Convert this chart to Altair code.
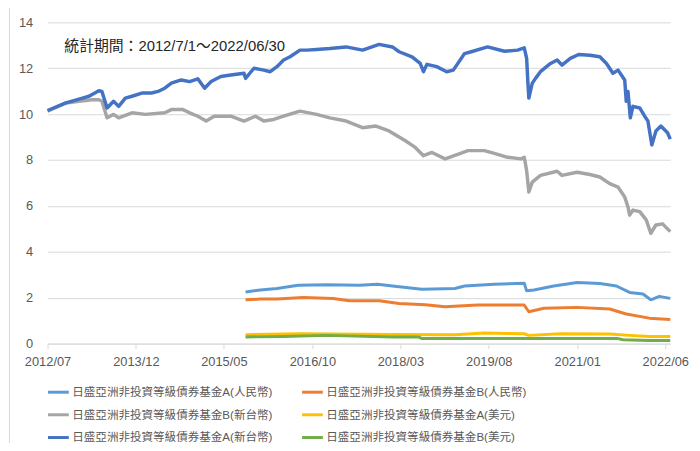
import altair as alt
import pandas as pd

FONT = "Liberation Sans, Arial, Noto Sans CJK TC, sans-serif"

series_names = [
    "日盛亞洲非投資等級債券基金A(人民幣)",
    "日盛亞洲非投資等級債券基金B(人民幣)",
    "日盛亞洲非投資等級債券基金B(新台幣)",
    "日盛亞洲非投資等級債券基金A(美元)",
    "日盛亞洲非投資等級債券基金A(新台幣)",
    "日盛亞洲非投資等級債券基金B(美元)",
]
series_colors = ["#5B9BD5", "#ED7D31", "#A5A5A5", "#FFC000", "#4472C4", "#70AD47"]
series_widths = [3, 3, 3.5, 3, 3.5, 3]
# legend is laid out column by column: left column first, then right column
legend_order = [0, 2, 4, 1, 3, 5]

# A(新台幣)
dates_twd_a = [
    "2012-07-01", "2012-10-17", "2013-01-22", "2013-03-01", "2013-04-28", "2013-05-16",
    "2013-06-15", "2013-07-23", "2013-08-22", "2013-09-30", "2013-11-08", "2014-01-05",
    "2014-03-03", "2014-04-10", "2014-05-19", "2014-06-27", "2014-08-24", "2014-10-12",
    "2014-11-29", "2015-01-08", "2015-02-15", "2015-04-13", "2015-06-10", "2015-08-27",
    "2015-09-05", "2015-10-24", "2015-12-21", "2016-01-28", "2016-03-07", "2016-04-15",
    "2016-05-23", "2016-07-20", "2016-08-28", "2016-10-25", "2017-01-11", "2017-04-17",
    "2017-07-22", "2017-10-27", "2018-01-13", "2018-02-21", "2018-05-08", "2018-06-25",
    "2018-07-14", "2018-08-03", "2018-09-30", "2018-11-27", "2019-01-05", "2019-03-12",
    "2019-04-20", "2019-07-25", "2019-11-01", "2020-01-17", "2020-02-25", "2020-03-10",
    "2020-03-17", "2020-03-23", "2020-04-12", "2020-05-01", "2020-05-30", "2020-07-28",
    "2020-09-05", "2020-10-03", "2020-11-21", "2021-01-09", "2021-03-16", "2021-05-13",
    "2021-06-21", "2021-07-29", "2021-08-28", "2021-10-06", "2021-10-15", "2021-10-25",
    "2021-11-08", "2021-11-23", "2022-01-02", "2022-01-31", "2022-02-19", "2022-03-14",
    "2022-04-07", "2022-05-06", "2022-06-14", "2022-06-30",
]
vals_twd_a = [
    10.16, 10.49, 10.70, 10.78, 11.02, 10.99,
    10.27, 10.56, 10.34, 10.70, 10.78, 10.92,
    10.92, 10.99, 11.13, 11.35, 11.49, 11.42,
    11.54, 11.13, 11.42, 11.64, 11.71, 11.78,
    11.56, 12.00, 11.92, 11.85, 12.07, 12.36,
    12.50, 12.79, 12.79, 12.82, 12.86, 12.93,
    12.79, 13.04, 12.93, 12.72, 12.50, 12.21,
    11.85, 12.17, 12.07, 11.85, 11.92, 12.64,
    12.72, 12.93, 12.74, 12.79, 12.89, 12.43,
    11.42, 10.70, 11.35, 11.56, 11.85, 12.21,
    12.36, 12.14, 12.43, 12.60, 12.57, 12.50,
    12.21, 11.78, 11.92, 11.49, 10.56, 10.99,
    9.84, 10.34, 10.27, 9.91, 9.70, 8.66,
    9.27, 9.48, 9.19, 8.91,
]

# B(新台幣)
dates_twd_b = [
    "2012-07-01", "2012-10-17", "2013-01-03", "2013-03-20", "2013-04-28", "2013-05-16",
    "2013-06-15", "2013-07-23", "2013-08-22", "2013-11-08", "2014-01-25", "2014-05-19",
    "2014-06-27", "2014-09-03", "2014-10-12", "2014-11-29", "2015-01-17", "2015-03-05",
    "2015-06-10", "2015-08-27", "2015-11-02", "2015-12-21", "2016-02-17", "2016-04-15",
    "2016-07-20", "2016-10-25", "2017-01-11", "2017-04-17", "2017-07-22", "2017-10-08",
    "2017-12-24", "2018-03-30", "2018-05-27", "2018-07-14", "2018-09-02", "2018-11-18",
    "2019-02-04", "2019-04-01", "2019-07-06", "2019-09-03", "2019-11-19", "2020-02-06",
    "2020-02-25", "2020-03-10", "2020-03-23", "2020-04-12", "2020-05-30", "2020-09-05",
    "2020-10-03", "2020-12-31", "2021-03-16", "2021-05-13", "2021-07-10", "2021-08-28",
    "2021-10-06", "2021-10-25", "2021-11-04", "2021-11-23", "2022-01-02", "2022-02-09",
    "2022-03-08", "2022-04-07", "2022-05-16", "2022-06-30",
]
vals_twd_b = [
    10.13, 10.49, 10.56, 10.63, 10.63, 10.56,
    9.84, 9.99, 9.84, 10.06, 9.99, 10.06,
    10.20, 10.20, 10.06, 9.91, 9.70, 9.91,
    9.91, 9.70, 9.91, 9.70, 9.77, 9.91,
    10.13, 9.99, 9.84, 9.70, 9.41, 9.48,
    9.27, 8.84, 8.55, 8.19, 8.33, 8.05,
    8.26, 8.41, 8.41, 8.29, 8.12, 8.05,
    8.12, 7.54, 6.61, 7.04, 7.33, 7.51,
    7.33, 7.47, 7.37, 7.26, 6.97, 6.82,
    6.39, 5.96, 5.60, 5.82, 5.75, 5.39,
    4.81, 5.17, 5.22, 4.88,
]

# A(人民幣)
dates_rmb_a = [
    "2015-09-05", "2015-12-01", "2016-03-07", "2016-07-10", "2016-12-22", "2017-07-03",
    "2017-10-18", "2018-01-13", "2018-07-05", "2019-01-15", "2019-03-12", "2019-09-03",
    "2020-02-25", "2020-03-10", "2020-04-22", "2020-08-16", "2020-12-31", "2021-05-13",
    "2021-08-18", "2021-11-04", "2022-01-21", "2022-03-08", "2022-04-27", "2022-06-30",
]
vals_rmb_a = [
    2.25, 2.34, 2.40, 2.54, 2.57, 2.54,
    2.59, 2.51, 2.37, 2.40, 2.51, 2.59,
    2.63, 2.30, 2.34, 2.51, 2.66, 2.62,
    2.51, 2.23, 2.16, 1.91, 2.06, 1.97,
]

# B(人民幣)
dates_rmb_b = [
    "2015-09-05", "2015-12-01", "2016-03-07", "2016-08-09", "2017-01-31", "2017-05-05",
    "2017-10-27", "2018-02-21", "2018-07-24", "2018-11-18", "2019-05-28", "2020-02-25",
    "2020-03-23", "2020-06-19", "2020-12-31", "2021-07-10", "2021-10-15", "2022-02-27",
    "2022-06-30",
]
vals_rmb_b = [
    1.91, 1.94, 1.94, 2.01, 1.97, 1.87,
    1.87, 1.75, 1.69, 1.61, 1.68, 1.68,
    1.39, 1.54, 1.58, 1.51, 1.29, 1.11,
    1.05,
]

# A(美元)
dates_usd_a = [
    "2015-09-05", "2016-07-20", "2018-01-13", "2019-01-15", "2019-07-06", "2020-02-25",
    "2020-03-23", "2020-09-25", "2021-07-10", "2021-11-04", "2022-02-27", "2022-06-30",
]
vals_usd_a = [0.39, 0.43, 0.40, 0.39, 0.46, 0.43, 0.36, 0.43, 0.42, 0.36, 0.31, 0.31]

# B(美元)
dates_usd_b = [
    "2015-09-05", "2016-04-15", "2016-12-22", "2018-01-13", "2018-06-15", "2018-07-05",
    "2019-01-15", "2020-03-10", "2021-08-28", "2021-09-26", "2022-02-27", "2022-06-30",
]
vals_usd_b = [0.29, 0.31, 0.36, 0.29, 0.29, 0.22, 0.22, 0.22, 0.22, 0.17, 0.14, 0.14]

tick_dates = [(2012, 7), (2013, 12), (2015, 5), (2016, 10), (2018, 3), (2019, 8), (2021, 1), (2022, 6)]
y_ticks = [0, 2, 4, 6, 8, 10, 12, 14]
title_text = "統計期間：2012/7/1～2022/06/30"

data_by_series = {
    series_names[0]: (dates_rmb_a, vals_rmb_a),
    series_names[1]: (dates_rmb_b, vals_rmb_b),
    series_names[2]: (dates_twd_b, vals_twd_b),
    series_names[3]: (dates_usd_a, vals_usd_a),
    series_names[4]: (dates_twd_a, vals_twd_a),
    series_names[5]: (dates_usd_b, vals_usd_b),
}

rows = []
for name, (ds, vs) in data_by_series.items():
    for d, v in zip(ds, vs):
        rows.append({"series": name, "date": d, "value": v})
df = pd.DataFrame(rows)

x_enc = alt.X(
    "date:T",
    scale=alt.Scale(type="utc", domain=[
        alt.DateTime(year=2012, month=7, date=1, utc=True),
        alt.DateTime(year=2022, month=6, date=30, utc=True)]),
    axis=alt.Axis(
        title=None,
        values=[alt.DateTime(year=y, month=m, date=1, utc=True) for y, m in tick_dates],
        format="%Y/%m",
        grid=False,
        ticks=True,
        tickSize=5,
        tickColor="#d9d9d9",
        domainColor="#d9d9d9",
        labelFontSize=13,
        labelFont=FONT,
        labelColor="#595959",
        labelPadding=7,
        labelOverlap=False,
        labelBound=False,
        labelFlush=False,
    ),
)
y_enc = alt.Y(
    "value:Q",
    scale=alt.Scale(domain=[0, 14], nice=False),
    axis=alt.Axis(
        title=None,
        values=y_ticks,
        grid=True,
        gridColor="#d9d9d9",
        domain=False,
        ticks=False,
        labelFontSize=13,
        labelFont=FONT,
        labelColor="#595959",
        labelPadding=15,
    ),
)
color_enc = alt.Color(
    "series:N",
    scale=alt.Scale(
        domain=[series_names[i] for i in legend_order],
        range=[series_colors[i] for i in legend_order],
    ),
    legend=alt.Legend(
        title=None,
        orient="none",
        legendX=-1,
        legendY=362,
        columns=2,
        symbolType="stroke",
        symbolSize=441,
        symbolStrokeWidth=3,
        labelFontSize=11.7,
        labelFont=FONT,
        labelColor="#595959",
        labelOffset=2,
        labelLimit=400,
        columnPadding=23,
        rowPadding=4,
    ),
)

base = alt.Chart(df).encode(x=x_enc, y=y_enc, color=color_enc)

layers = []
for name, w in zip(series_names, series_widths):
    layers.append(
        base.transform_filter(alt.datum.series == name).mark_line(strokeWidth=w, strokeJoin="round")
    )

frame_df = pd.DataFrame({"k": [0]})
frame_top = alt.Chart(frame_df).mark_rule(color="#d9d9d9", strokeWidth=1).encode(
    x=alt.value(-38.5), x2=alt.value(700), y=alt.value(-15.5)
)
frame_left = alt.Chart(frame_df).mark_rule(color="#d9d9d9", strokeWidth=1).encode(
    x=alt.value(-38.5), y=alt.value(-15.5), y2=alt.value(500)
)

chart = alt.layer(frame_top, frame_left, *layers).properties(
    width=630,
    height=325,
    autosize=alt.AutoSizeParams(type="none"),
    padding={"left": 40, "top": 12, "right": 22, "bottom": 98},
    title=alt.TitleParams(
        text=title_text,
        anchor="start",
        frame="group",
        dx=17,
        dy=48,
        offset=0,
        fontSize=15,
        font=FONT,
        fontWeight="normal",
        color="#262626",
    ),
).configure_view(stroke=None)

chart.save("out.html", embed_options={"renderer": "svg", "actions": False})
